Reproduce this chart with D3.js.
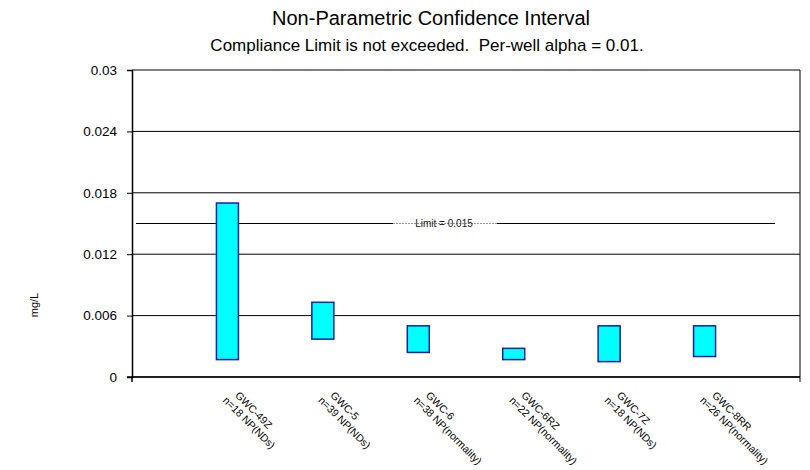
<!DOCTYPE html>
<html><head><meta charset="utf-8">
<script src="https://cdn.jsdelivr.net/npm/d3@7"></script>
<style>body{margin:0;background:#fff;} text{font-family:"Liberation Sans",Arial,sans-serif;}</style>
</head><body><svg id="c" width="810" height="470"></svg>
<script>
const wells = ["GWC-49Z","GWC-5","GWC-6","GWC-6RZ","GWC-7Z","GWC-8RR"];
const wellInfo = ["n=18 NP(NDs)","n=39 NP(NDs)","n=38 NP(normality)","n=22 NP(normality)","n=18 NP(NDs)","n=26 NP(normality)"];
const upper = [0.017, 0.0073, 0.005, 0.0028, 0.005, 0.005];
const lower = [0.0017, 0.0037, 0.0024, 0.0017, 0.0015, 0.002];
const yTicks = [0, 0.006, 0.012, 0.018, 0.024, 0.03];
const limitValue = 0.015;

const svg = d3.select("#c");
const L = 132, R = 800, T = 70, B = 377;
const x = d3.scalePoint().domain(wells).range([L, R]).padding(1);
const y = d3.scaleLinear().domain([0, 0.03]).range([B, T]);

svg.append("text").attr("x", 431).attr("y", 25).attr("text-anchor","middle")
  .attr("font-size", 20).attr("fill","#000").text("Non-Parametric Confidence Interval");
svg.append("text").attr("x", 427).attr("y", 51).attr("text-anchor","middle").attr("xml:space","preserve")
  .style("white-space","pre")
  .attr("font-size", 17).attr("fill","#000").text("Compliance Limit is not exceeded.  Per-well alpha = 0.01.");

// gridlines
svg.append("g").selectAll("line").data(yTicks).join("line")
  .attr("x1", L).attr("x2", R).attr("y1", d=>y(d)).attr("y2", d=>y(d))
  .attr("stroke","#000").attr("stroke-width",1);

// y axis
const ya = svg.append("g").attr("transform",`translate(${L},0)`)
  .call(d3.axisLeft(y).tickValues(yTicks).tickSize(5).tickFormat(d=>String(+d.toFixed(3))));
ya.select(".domain").attr("stroke","#000").attr("stroke-width",1.5);
ya.selectAll(".tick line").attr("stroke","#000");
ya.selectAll(".tick text").attr("font-size",13.5).attr("fill","#000").attr("x",-15)
  .attr("font-family","Liberation Sans, Arial, sans-serif");

// x axis line
svg.append("line").attr("x1", L-5).attr("x2", R).attr("y1", B).attr("y2", B).attr("stroke","#000").attr("stroke-width",1.5);
svg.append("line").attr("x1", L).attr("x2", L).attr("y1", B).attr("y2", B+5).attr("stroke","#000").attr("stroke-width",1.5);
// right border
svg.append("line").attr("x1", R).attr("x2", R).attr("y1", T).attr("y2", B+5).attr("stroke","#000").attr("stroke-width",1);

// limit line
const ly = y(limitValue);
svg.append("line").attr("x1", 136).attr("x2", 393).attr("y1", ly).attr("y2", ly).attr("stroke","#000").attr("stroke-width",1);
svg.append("line").attr("x1", 393).attr("x2", 497).attr("y1", ly).attr("y2", ly).attr("stroke","#999").attr("stroke-width",1).attr("stroke-dasharray","2,1");
svg.append("line").attr("x1", 497).attr("x2", 775).attr("y1", ly).attr("y2", ly).attr("stroke","#000").attr("stroke-width",1);
svg.append("text").attr("x", 444).attr("y", ly+3.5).attr("text-anchor","middle").attr("font-size",10)
  .attr("fill","#222").text("Limit = " + limitValue);

// bars
const bw = 22;
svg.append("g").selectAll("rect").data(wells).join("rect")
  .attr("x", d=>x(d)-bw/2).attr("width", bw)
  .attr("y", (d,i)=>y(upper[i])).attr("height", (d,i)=>y(lower[i])-y(upper[i]))
  .attr("fill","#00FFFF").attr("stroke","#1c1ca8").attr("stroke-width",1.5);

// x labels
const lab = svg.append("g").selectAll("text").data(wells).join("text")
  .attr("transform", d=>`translate(${x(d)+7},${B+19}) rotate(45)`)
  .attr("font-size",10.5).attr("fill","#000");
lab.append("tspan").attr("x",0).attr("dy",0).text(d=>d);
lab.append("tspan").attr("x",-5).attr("dy","1.15em").text((d,i)=>wellInfo[i]);

svg.append("text").attr("transform","translate(38,305) rotate(-90)").attr("text-anchor","middle")
  .attr("font-size",11).attr("fill","#000").text("mg/L");
</script></body></html>
